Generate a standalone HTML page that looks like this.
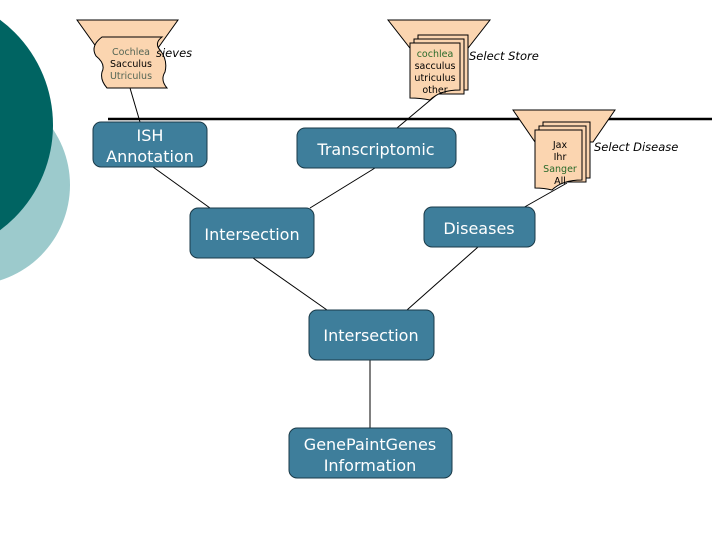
<!DOCTYPE html>
<html><head><style>
html,body{margin:0;padding:0;background:#fff;}
svg{display:block;font-family:"DejaVu Sans","Liberation Sans",sans-serif;}
</style></head><body>
<svg width="720" height="540" viewBox="0 0 720 540" xmlns="http://www.w3.org/2000/svg">
<circle cx="-30" cy="185" r="100" fill="#9ccacc"/>
<circle cx="-78" cy="125" r="131" fill="#006462"/>
<line x1="108" y1="119" x2="712" y2="119" stroke="#000" stroke-width="2.5"/>
<g stroke="#000" stroke-width="1" fill="none">
<line x1="130" y1="88" x2="140" y2="122"/>
<line x1="440" y1="92" x2="397" y2="128"/>
<line x1="567" y1="183" x2="521" y2="209"/>
<line x1="153" y1="167" x2="210" y2="208"/>
<line x1="375" y1="168" x2="310" y2="208"/>
<line x1="253" y1="258" x2="327" y2="310"/>
<line x1="478" y1="247" x2="407" y2="310"/>
<line x1="370" y1="360" x2="370" y2="428"/>
</g>
<g fill="#fbd5b0" stroke="#000" stroke-width="1">
<polygon points="77,20 178,20 158,48 97,48"/>
<path d="M102,37 L162,37 Q154,43 160,50 Q168,60 165,72 Q160,80 167,88 L107,88 Q100,80 102,72 Q106,64 96,56 Q90,46 102,37 Z"/>
<polygon points="388,20 490,20 465,52 413,52"/>
<path d="M418,35 L468,35 L468,90 L418,90 Z"/>
<path d="M414,39 L464,39 L464,94 L414,94 Z"/>
<path d="M410,43 L460,43 L460,90 Q440,90 430,100 Q420,98 410,98 Z"/>
<polygon points="513,110 615,110 593,142 535,142"/>
<path d="M543,122 L590,122 L590,178 L543,178 Z"/>
<path d="M539,126 L586,126 L586,182 L539,182 Z"/>
<path d="M535,130 L582,130 L582,180 Q562,180 552,190 Q544,188 535,188 Z"/>
</g>
<g font-size="9.5" text-anchor="middle">
<text x="131" y="55" fill="#556655">Cochlea</text>
<text x="131" y="67" fill="#000">Sacculus</text>
<text x="131" y="79" fill="#556655">Utriculus</text>
<text x="435" y="57" fill="#2a6a2a">cochlea</text>
<text x="435" y="69" fill="#000">sacculus</text>
<text x="435" y="81" fill="#000">utriculus</text>
<text x="435" y="93" fill="#000">other</text>
<text x="560" y="148" fill="#000">Jax</text>
<text x="560" y="160" fill="#000">Ihr</text>
<text x="560" y="172" fill="#2a6a2a">Sanger</text>
<text x="560" y="184" fill="#000">All</text>
</g>
<g font-size="11.5" font-style="italic" fill="#000">
<text x="156" y="57">sieves</text>
<text x="469" y="60">Select Store</text>
<text x="594" y="151">Select Disease</text>
</g>
<g fill="#3e7e9b" stroke="#1a3a48" stroke-width="1">
<rect x="93" y="122" width="114" height="45" rx="8"/>
<rect x="297" y="128" width="159" height="40" rx="8"/>
<rect x="190" y="208" width="124" height="50" rx="8"/>
<rect x="424" y="207" width="111" height="40" rx="8"/>
<rect x="309" y="310" width="125" height="50" rx="8"/>
<rect x="289" y="428" width="163" height="50" rx="8"/>
</g>
<g fill="#fff" font-size="16" text-anchor="middle">
<text x="150" y="141">ISH</text>
<text x="150" y="162">Annotation</text>
<text x="376" y="155">Transcriptomic</text>
<text x="252" y="240">Intersection</text>
<text x="479" y="234">Diseases</text>
<text x="371" y="341">Intersection</text>
<text x="370" y="450">GenePaintGenes</text>
<text x="370" y="471">Information</text>
</g>
</svg>
</body></html>
